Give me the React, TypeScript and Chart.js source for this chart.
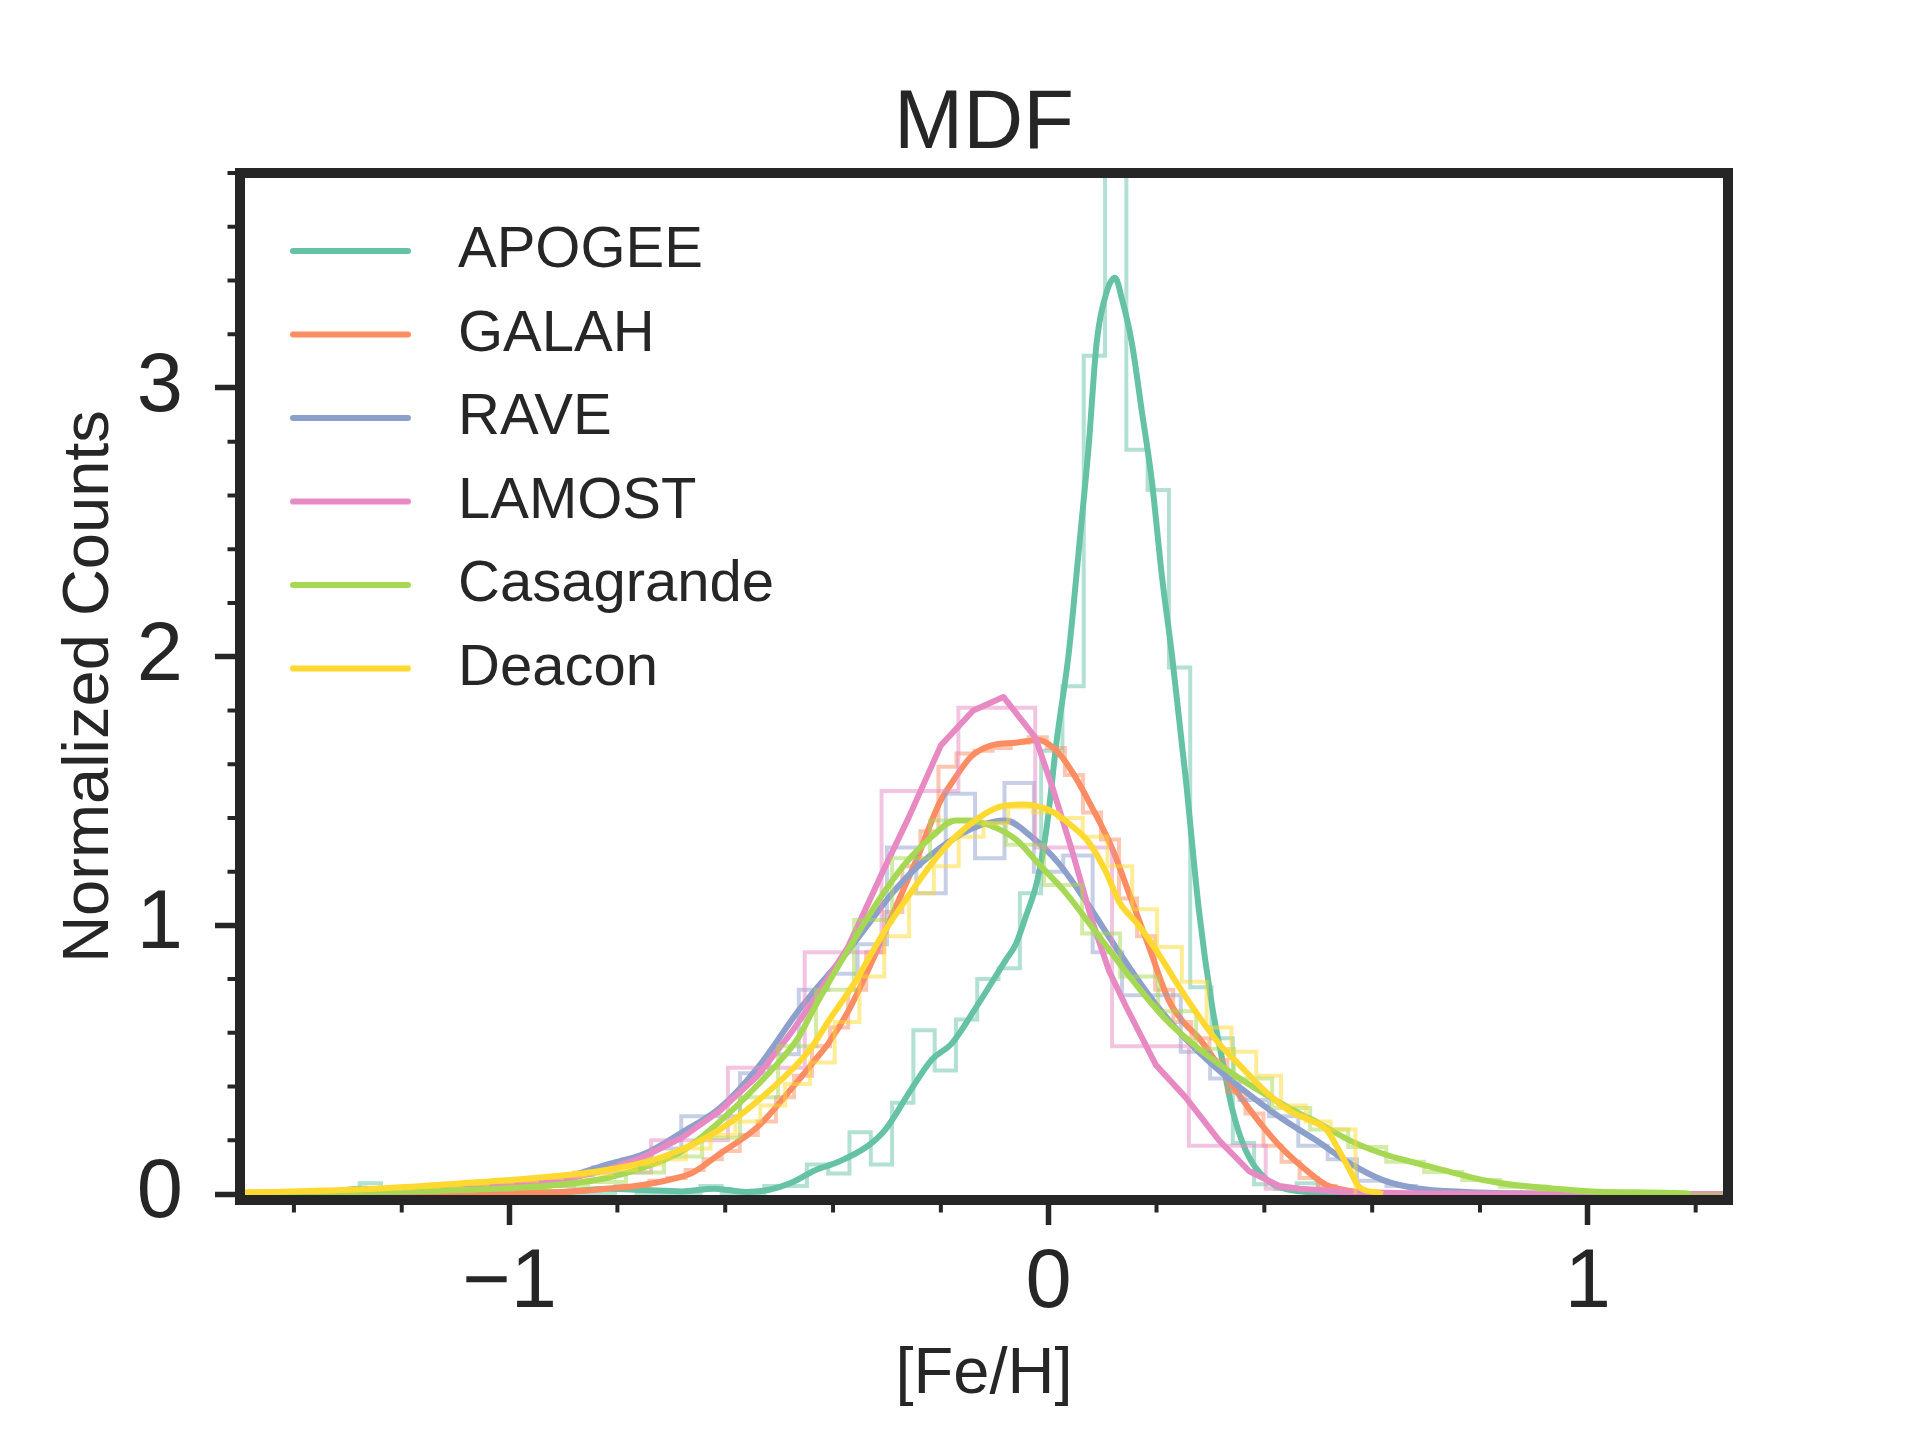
import { useEffect, useRef } from "react";
import { Chart, registerables, type ChartConfiguration, type Plugin } from "chart.js";

Chart.register(...registerables);

const FONT = "'Liberation Sans', Arial, Helvetica, sans-serif";
const INK = "#262626";

const surveys = ["APOGEE", "GALAH", "RAVE", "LAMOST", "Casagrande", "Deacon"];
const lineColors = ["#66c2a5", "#fc8d62", "#8da0cb", "#e78ac3", "#a6d854", "#ffd92f"];
const histColors = [
  "rgba(102,194,165,0.5)",
  "rgba(252,141,98,0.5)",
  "rgba(141,160,203,0.5)",
  "rgba(231,138,195,0.5)",
  "rgba(166,216,84,0.5)",
  "rgba(255,217,47,0.5)",
];

// smoothed curves (KDE)
const apogeeKdeX = [-1.5, -1.4, -1.33, -1.27, -1.2, -1.1, -1.0, -0.9, -0.82, -0.75, -0.68, -0.62, -0.56, -0.52, -0.48, -0.433, -0.39, -0.335, -0.303, -0.255, -0.217, -0.18, -0.13, -0.08, -0.061, -0.043, -0.022, -0.004, 0.015, 0.037, 0.056, 0.074, 0.089, 0.108, 0.123, 0.136, 0.154, 0.173, 0.191, 0.21, 0.229, 0.254, 0.279, 0.303, 0.322, 0.34, 0.366, 0.403, 0.465, 0.55, 0.65];
const apogeeKdeY = [0, 0.003, 0.01, 0.02, 0.008, 0.004, 0.004, 0.008, 0.02, 0.015, 0.01, 0.02, 0.008, 0.015, 0.04, 0.089, 0.12, 0.18, 0.24, 0.39, 0.5, 0.56, 0.71, 0.87, 0.93, 1.03, 1.16, 1.36, 1.69, 2.01, 2.4, 2.78, 3.17, 3.36, 3.41, 3.33, 3.17, 2.91, 2.66, 2.3, 2.0, 1.55, 1.05, 0.7, 0.5, 0.32, 0.16, 0.056, 0.01, 0.002, 0];

const galahKdeX = [-1.5, -1.2, -1.05, -0.95, -0.885, -0.82, -0.75, -0.7, -0.66, -0.61, -0.54, -0.474, -0.433, -0.409, -0.372, -0.329, -0.279, -0.242, -0.204, -0.18, -0.143, -0.106, -0.061, -0.019, 0.019, 0.05, 0.08, 0.117, 0.149, 0.186, 0.223, 0.25, 0.279, 0.335, 0.39, 0.433, 0.477, 0.515, 0.558, 0.62];
const galahKdeY = [0, 0.001, 0.003, 0.006, 0.01, 0.02, 0.035, 0.055, 0.08, 0.15, 0.25, 0.4, 0.5, 0.56, 0.68, 0.86, 1.09, 1.26, 1.45, 1.53, 1.63, 1.67, 1.68, 1.69, 1.64, 1.55, 1.44, 1.29, 1.12, 0.92, 0.72, 0.64, 0.58, 0.42, 0.27, 0.17, 0.09, 0.034, 0.012, 0.003];

const raveKdeX = [-1.5, -1.35, -1.16, -1.02, -0.955, -0.885, -0.82, -0.75, -0.68, -0.61, -0.54, -0.465, -0.433, -0.39, -0.34, -0.29, -0.248, -0.186, -0.13, -0.08, -0.032, 0.019, 0.069, 0.124, 0.186, 0.248, 0.31, 0.372, 0.433, 0.496, 0.558, 0.62, 0.682, 0.775, 0.9, 1.0];
const raveKdeY = [0.003, 0.006, 0.015, 0.033, 0.045, 0.07, 0.11, 0.15, 0.23, 0.32, 0.47, 0.68, 0.76, 0.86, 0.99, 1.12, 1.21, 1.31, 1.37, 1.39, 1.33, 1.23, 1.09, 0.92, 0.74, 0.59, 0.47, 0.37, 0.28, 0.2, 0.115, 0.052, 0.022, 0.008, 0.002, 0];

const lamostKdeX = [-1.5, -1.16, -0.99, -0.885, -0.82, -0.75, -0.68, -0.61, -0.54, -0.478, -0.433, -0.372, -0.31, -0.26, -0.2, -0.14, -0.084, -0.025, 0.006, 0.043, 0.08, 0.112, 0.143, 0.199, 0.254, 0.316, 0.372, 0.428, 0.465, 0.55, 0.7, 1.26];
const lamostKdeY = [0.004, 0.015, 0.033, 0.06, 0.09, 0.14, 0.21, 0.31, 0.44, 0.6, 0.73, 0.92, 1.19, 1.4, 1.67, 1.8, 1.85, 1.7, 1.52, 1.28, 1.02, 0.83, 0.7, 0.48, 0.36, 0.2, 0.085, 0.03, 0.02, 0.008, 0.002, 0];

const casaKdeX = [-1.5, -1.37, -1.09, -0.92, -0.82, -0.75, -0.68, -0.61, -0.51, -0.465, -0.433, -0.366, -0.31, -0.266, -0.217, -0.173, -0.149, -0.106, -0.061, -0.019, 0.032, 0.093, 0.154, 0.217, 0.279, 0.34, 0.403, 0.465, 0.496, 0.558, 0.62, 0.682, 0.744, 0.806, 0.868, 0.93, 1.02, 1.18, 1.19];
const casaKdeY = [0.003, 0.005, 0.015, 0.033, 0.06, 0.1, 0.16, 0.27, 0.47, 0.58, 0.7, 0.93, 1.11, 1.23, 1.33, 1.39, 1.39, 1.37, 1.32, 1.23, 1.12, 0.96, 0.8, 0.65, 0.54, 0.45, 0.37, 0.3, 0.27, 0.2, 0.15, 0.115, 0.083, 0.052, 0.033, 0.022, 0.009, 0.003, 0];

const deaconKdeX = [-1.5, -1.44, -1.23, -1.09, -0.955, -0.82, -0.714, -0.61, -0.515, -0.446, -0.403, -0.359, -0.31, -0.26, -0.217, -0.173, -0.13, -0.093, -0.05, 0, 0.043, 0.074, 0.106, 0.13, 0.167, 0.205, 0.236, 0.279, 0.316, 0.359, 0.403, 0.446, 0.49, 0.515, 0.539, 0.558, 0.576, 0.608, 0.62];
const deaconKdeY = [0.006, 0.008, 0.022, 0.04, 0.06, 0.09, 0.14, 0.24, 0.39, 0.53, 0.66, 0.79, 0.96, 1.11, 1.23, 1.33, 1.4, 1.44, 1.45, 1.43, 1.37, 1.31, 1.2, 1.09, 1.0, 0.89, 0.79, 0.66, 0.56, 0.47, 0.38, 0.31, 0.27, 0.24, 0.16, 0.09, 0.027, 0.006, 0];

// step histograms: first bin edge, bin width, bin heights
const apogeeBinStart = -1.278;
const apogeeBinWidth = 0.0395;
const apogeeHist = [0.04, 0, 0, 0, 0, 0, 0, 0, 0, 0, 0, 0, 0.03, 0, 0, 0, 0.03, 0, 0, 0.03, 0.03, 0.11, 0.077, 0.23, 0.11, 0.34, 0.61, 0.46, 0.65, 0.8, 0.84, 1.12, 1.65, 1.89, 3.12, 4.3, 2.77, 2.62, 1.96, 0.77, 0.58, 0.19, 0.037, 0.02, 0.04];

const galahBinStart = -1.0085;
const galahBinWidth = 0.0335;
const galahHist = [0.005, 0.005, 0.008, 0.01, 0.015, 0.02, 0.025, 0.03, 0.05, 0.06, 0.09, 0.13, 0.16, 0.22, 0.27, 0.36, 0.44, 0.55, 0.62, 0.76, 0.9, 1.05, 1.22, 1.35, 1.59, 1.64, 1.65, 1.66, 1.68, 1.7, 1.66, 1.56, 1.42, 1.32, 1.1, 0.96, 0.76, 0.64, 0.58, 0.5, 0.38, 0.3, 0.18, 0.12, 0.06, 0.03, 0.01, 0.005, 0.002];

const raveBinStart = -1.39;
const raveBinWidth = 0.0545;
const raveHist = [0.005, 0.006, 0.008, 0.01, 0.012, 0.018, 0.025, 0.035, 0.05, 0.07, 0.1, 0.13, 0.17, 0.29, 0.29, 0.45, 0.52, 0.76, 0.82, 0.93, 1.29, 1.12, 1.49, 1.25, 1.53, 1.2, 1.26, 0.9, 0.74, 0.74, 0.53, 0.43, 0.35, 0.29, 0.18, 0.13, 0.05, 0.03, 0.015, 0.008, 0.004, 0.002, 0.001];

const lamostBinStart = -1.45;
const lamostBinWidth = 0.1425;
const lamostHist = [0.003, 0.005, 0.015, 0.03, 0.08, 0.2, 0.47, 0.9, 1.5, 1.81, 1.29, 0.55, 0.18, 0.02, 0.004, 0.001, 0, 0, 0];

const casaBinStart = -1.489;
const casaBinWidth = 0.0705;
const casaHist = [0.003, 0.004, 0.005, 0.006, 0.008, 0.012, 0.016, 0.022, 0.03, 0.045, 0.08, 0.14, 0.21, 0.36, 0.55, 0.76, 1.02, 1.25, 1.39, 1.38, 1.3, 1.15, 0.97, 0.81, 0.68, 0.54, 0.43, 0.32, 0.24, 0.175, 0.12, 0.082, 0.052, 0.026, 0.015, 0.008, 0.004, 0.002, 0.001];

const deaconBinStart = -1.455;
const deaconBinWidth = 0.046;
const deaconHist = [0.008, 0.01, 0.012, 0.015, 0.018, 0.022, 0.026, 0.032, 0.038, 0.044, 0.05, 0.06, 0.066, 0.075, 0.09, 0.11, 0.13, 0.17, 0.22, 0.27, 0.33, 0.41, 0.49, 0.64, 0.81, 0.96, 1.12, 1.22, 1.33, 1.38, 1.44, 1.42, 1.4, 1.33, 1.22, 1.06, 0.92, 0.79, 0.62, 0.53, 0.44, 0.33, 0.27, 0.24];

const X_MIN = -1.5;
const X_MAX = 1.26;
const Y_MIN = -0.022;
const Y_MAX = 3.8;
const minorTicksX = [-1.4, -1.2, -0.8, -0.6, -0.4, -0.2, 0.2, 0.4, 0.6, 0.8, 1.2];
const minorTicksY = [0.2, 0.4, 0.6, 0.8, 1.2, 1.4, 1.6, 1.8, 2.2, 2.4, 2.6, 2.8, 3.2, 3.4, 3.6, 3.8];

const kdeSeries = [
  { x: apogeeKdeX, y: apogeeKdeY, smooth: true },
  { x: galahKdeX, y: galahKdeY, smooth: true },
  { x: raveKdeX, y: raveKdeY, smooth: true },
  { x: lamostKdeX, y: lamostKdeY, smooth: false },
  { x: casaKdeX, y: casaKdeY, smooth: true },
  { x: deaconKdeX, y: deaconKdeY, smooth: true },
];

const histSeries = [
  { start: apogeeBinStart, width: apogeeBinWidth, counts: apogeeHist },
  { start: galahBinStart, width: galahBinWidth, counts: galahHist },
  { start: raveBinStart, width: raveBinWidth, counts: raveHist },
  { start: lamostBinStart, width: lamostBinWidth, counts: lamostHist },
  { start: casaBinStart, width: casaBinWidth, counts: casaHist },
  { start: deaconBinStart, width: deaconBinWidth, counts: deaconHist },
];

type Pt = { x: number; y: number };

function zip(xs: number[], ys: number[]): Pt[] {
  const n = Math.min(xs.length, ys.length);
  const out: Pt[] = [];
  for (let i = 0; i < n; i++) out.push({ x: xs[i], y: ys[i] });
  return out;
}

// outline of a histtype="step" histogram
function stepOutline(start: number, width: number, counts: number[]): Pt[] {
  const pts: Pt[] = [{ x: start, y: 0 }];
  counts.forEach((h, i) => {
    pts.push({ x: start + i * width, y: h });
    pts.push({ x: start + (i + 1) * width, y: h });
  });
  pts.push({ x: start + counts.length * width, y: 0 });
  return pts;
}

function tickText(value: number | string) {
  const v = Number(value);
  return v < 0 ? "\u2212" + Math.abs(v) : String(v);
}

// legend sample: a short line plus empty room so the text sits where it should
function makeSwatch(color: string) {
  const c = document.createElement("canvas");
  c.width = 139;
  c.height = 10;
  const g = c.getContext("2d");
  if (g) {
    g.strokeStyle = color;
    g.lineWidth = 6;
    g.lineCap = "round";
    g.beginPath();
    g.moveTo(3, 5);
    g.lineTo(118, 5);
    g.stroke();
  }
  return c;
}

const framePlugin: Plugin<"line"> = {
  id: "mdfFrame",
  afterLayout(chart) {
    const legend: any = chart.legend;
    const area = chart.chartArea;
    if (!legend || !area) return;
    legend.left = area.left + 24.5;
    legend.top = area.top + 23.5;
    legend.right = area.right;
    legend.bottom = area.bottom;
  },
  afterDatasetsDraw(chart) {
    const { ctx, chartArea: a, scales } = chart;
    ctx.save();
    ctx.strokeStyle = INK;
    ctx.lineWidth = 4;
    ctx.beginPath();
    for (const v of minorTicksX) {
      const px = scales.x.getPixelForValue(v);
      ctx.moveTo(px, a.bottom);
      ctx.lineTo(px, a.bottom + 12.5);
    }
    for (const v of minorTicksY) {
      const py = scales.y.getPixelForValue(v);
      ctx.moveTo(a.left - 12.5, py);
      ctx.lineTo(a.left, py);
    }
    ctx.stroke();
    ctx.lineWidth = 10;
    ctx.lineJoin = "miter";
    ctx.strokeRect(a.left, a.top, a.right - a.left, a.bottom - a.top);
    ctx.restore();
  },
};

function buildConfig(swatches: HTMLCanvasElement[]): ChartConfiguration<"line", Pt[]> {
  const datasets: any[] = [];
  surveys.forEach((name, i) => {
    const h = histSeries[i];
    datasets.push({
      label: name + " hist",
      data: stepOutline(h.start, h.width, h.counts),
      borderColor: histColors[i],
      borderWidth: 4,
      borderJoinStyle: "miter",
      pointRadius: 0,
      tension: 0,
      fill: false,
      order: 100 - 2 * i,
    });
    const k = kdeSeries[i];
    datasets.push({
      label: name,
      data: zip(k.x, k.y),
      borderColor: lineColors[i],
      borderWidth: 6,
      borderJoinStyle: "round",
      pointRadius: 0,
      tension: 0,
      cubicInterpolationMode: k.smooth ? "monotone" : "default",
      fill: false,
      order: 99 - 2 * i,
    });
  });

  const tickFont = { family: FONT, size: 83 };
  const legendFont = { family: FONT, size: 58 };
  const axisTitleFont = { family: FONT, size: 65 };

  return {
    type: "line",
    data: { datasets },
    options: {
      animation: false,
      responsive: false,
      devicePixelRatio: 1,
      events: [],
      layout: { padding: { left: 0, top: 0, right: 192, bottom: 0 } },
      elements: { point: { radius: 0 } },
      plugins: {
        title: {
          display: true,
          text: "MDF",
          color: INK,
          fullSize: false,
          font: { family: FONT, size: 83, weight: "normal", lineHeight: 1 },
          padding: { top: 83.8, bottom: 6.2 },
        },
        legend: {
          position: "chartArea",
          align: "start",
          fullSize: false,
          labels: {
            usePointStyle: true,
            pointStyleWidth: 139,
            padding: 25.5,
            color: INK,
            font: legendFont,
            generateLabels: () =>
              surveys.map((name, i) => ({
                text: name,
                fillStyle: lineColors[i],
                strokeStyle: lineColors[i],
                lineWidth: 0,
                pointStyle: swatches[i],
                fontColor: INK,
                hidden: false,
                datasetIndex: 2 * i + 1,
              })),
          },
        },
        tooltip: { enabled: false },
      },
      scales: {
        x: {
          type: "linear",
          min: X_MIN,
          max: X_MAX,
          afterFit: (s: any) => {
            s.height = 240;
          },
          border: { display: false },
          grid: {
            display: true,
            drawOnChartArea: false,
            drawTicks: true,
            tickLength: 25,
            tickWidth: 5.5,
            tickColor: INK,
          },
          ticks: {
            stepSize: 1,
            includeBounds: false,
            autoSkip: false,
            maxRotation: 0,
            minRotation: 0,
            padding: 9,
            color: INK,
            font: tickFont,
            callback: tickText,
          },
          title: {
            display: true,
            text: "[Fe/H]",
            color: INK,
            font: axisTitleFont,
            padding: { top: 0, bottom: 25.5 },
          },
        },
        y: {
          type: "linear",
          min: Y_MIN,
          max: Y_MAX,
          afterFit: (s: any) => {
            s.width = 240;
          },
          border: { display: false },
          grid: {
            display: true,
            drawOnChartArea: false,
            drawTicks: true,
            tickLength: 25,
            tickWidth: 5.5,
            tickColor: INK,
          },
          ticks: {
            stepSize: 1,
            includeBounds: false,
            autoSkip: false,
            padding: 32,
            color: INK,
            font: tickFont,
            callback: tickText,
          },
          title: {
            display: true,
            text: "Normalized Counts",
            color: INK,
            font: axisTitleFont,
            padding: { top: 51, bottom: 0 },
          },
        },
      },
    },
    plugins: [framePlugin],
  } as ChartConfiguration<"line", Pt[]>;
}

export default function App() {
  const canvasRef = useRef<HTMLCanvasElement>(null);

  useEffect(() => {
    document.body.style.margin = "0";
    if (!canvasRef.current) return;
    const swatches = lineColors.map(makeSwatch);
    const chart = new Chart(canvasRef.current, buildConfig(swatches));
    return () => chart.destroy();
  }, []);

  return (
    <div style={{ width: 1920, height: 1440, background: "#fff" }}>
      <canvas
        ref={canvasRef}
        width={1920}
        height={1440}
        style={{ display: "block", width: 1920, height: 1440 }}
        role="img"
        aria-label="MDF: normalized [Fe/H] distributions for six surveys"
      />
    </div>
  );
}
